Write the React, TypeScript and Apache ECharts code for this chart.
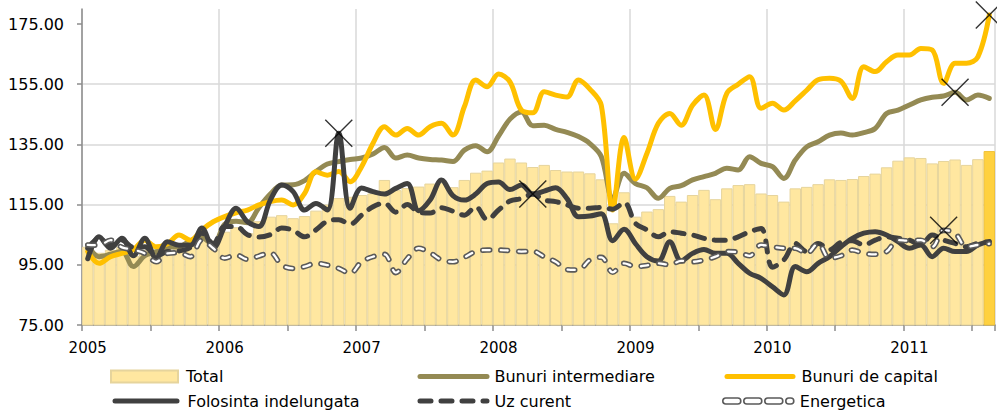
import React, { useEffect, useRef } from 'react';
import * as echarts from 'echarts';

const FIRST_YEAR = 2005;
const MONTH_COUNT = 80;
const categories: string[] = Array.from({ length: MONTH_COUNT }, (_, i) =>
  `${FIRST_YEAR + Math.floor(i / 12)}-${String((i % 12) + 1).padStart(2, '0')}`
);

const yTicks = [75, 95, 115, 135, 155, 175];

const total = [
  101, 99, 100, 101, 98, 100, 100, 99, 101, 102, 103, 103,
  106, 107.5, 105.5, 109.5, 111, 111.5, 110.5, 111.2, 113, 115, 117.2, 117.6,
  118.2, 118.7, 123.2, 119.8, 120.5, 121, 122, 122.3, 120.8, 123.2, 125.6, 126.3,
  129, 130.3, 129, 127.5, 128.2, 126.5, 126, 126, 125.4, 123.4, 108.8, 119.1,
  111, 112.7, 113.5, 117.9, 116, 118.2, 119.9, 116.8, 120.4, 121.5, 121.8, 118.7,
  118.2, 116, 120.4, 120.9, 121.8, 123.4, 123.2, 123.5, 124.5, 125.3, 127.4, 129.6,
  130.7, 130.5, 128.7, 129.5, 130, 128.2, 130.1, 132.8,
];

const intermediare = [
  101.5, 97.7, 98.5, 99.5, 94.4, 98, 99.4, 100.8, 101, 103, 104, 101.6,
  108.5, 109.5, 109, 114, 118.5, 121.5, 121.6, 123, 126, 128.5, 129.3, 130,
  130.5, 131.8, 134, 130.5, 131.5, 130.5, 130, 129.8, 129.3, 133.1, 134.6, 132.6,
  137.8, 143.4, 145.8, 141.2, 141.4, 140, 139, 137.6, 135.3, 131, 117, 125.4,
  122, 120.6, 117.1, 120.4, 121.3, 123.2, 124.3, 125.4, 127.1, 126.5, 130.9, 128.7,
  127.6, 123.7, 129.8, 134.2, 135.9, 138.1, 138.8, 138.1, 138.9, 140.3, 145.3, 146.4,
  148.1, 149.8, 150.7, 151.1, 152.3, 149.8, 151.4, 150.3,
];

const capital = [
  99.4, 95.5, 97.7, 98.8, 100, 103.2, 101, 102, 104.9, 103.2, 106.6, 109.3,
  111, 112.3, 113.2, 114.9, 116, 116.5, 114.9, 118.7, 125.9, 124.8, 126, 122.6,
  127.6, 135.4, 140.9, 138.1, 140.3, 138.1, 140.9, 142, 138.1, 147.5, 156.4, 154.2,
  158.4, 155.8, 146.4, 145.5, 152.5, 151.4, 150.8, 156.4, 153.4, 148, 113.2, 137.3,
  123.5, 132, 142, 145.3, 141.4, 148, 151.4, 140, 152, 155, 157.5, 147,
  148.7, 146.4, 149.5, 153, 156.5, 157, 156, 150.3, 160.8, 159.2, 162.5, 164.7,
  164.7, 166.9, 166.4, 155.3, 162, 162, 164.1, 178,
];

const folosinta = [
  97, 104.3, 100.5, 103.8, 98, 103.8, 97.2, 102.7, 101.5, 101.5, 107.2, 100.5,
  107.7, 113.8, 109.3, 107.7, 116.5, 121.5, 119.3, 113.2, 115.4, 113.2, 138.7, 113.8,
  120.5, 119.3, 118.5, 120.4, 122, 113, 116.5, 123.2, 118, 116.5, 118.5, 122,
  122.5, 120, 121.5, 118.5, 119.5, 120.6, 117, 111, 111.2, 112, 103, 106.8,
  102, 97.7, 96.3, 102.7, 96.3, 98.8, 100.1, 98.8, 98.8, 95.5, 92.2, 90.5,
  87.7, 85, 94.4, 92.7, 95.5, 97.7, 101, 103.8, 105.5, 106, 104.9, 102.7,
  100.5, 101.6, 97.7, 100.5, 99.4, 99.4, 101.6, 102.7,
];

const uzCurent = [
  100.5, 103.8, 101.6, 103.2, 100.8, 101, 98, 99.4, 99.6, 100.8, 105.5, 102.1,
  107.7, 107.7, 105, 104.2, 105, 107.2, 106.5, 104.3, 106.6, 109.5, 110, 108.5,
  111.5, 114.3, 115.5, 112.5, 115, 112.5, 112.2, 114, 112.8, 111.5, 114.3, 110,
  113.2, 116.2, 117, 118.5, 116.5, 116, 114.9, 113.8, 113.8, 114.1, 113.5, 115.7,
  108.8, 106.6, 104.3, 106, 105.5, 104.9, 103.8, 103.2, 103.2, 104.3, 106, 107.1,
  94.2, 96.6, 102.1, 99.4, 102.1, 100, 102.5, 103, 101.6, 103.2, 104.3, 103.8,
  103.2, 101.6, 104.9, 103.2, 102.1, 101, 102.2, 102.7,
];

const energetica = [
  101.6, 101.5, 103.2, 100.8, 100, 98.8, 96, 98.8, 99, 97.7, 103.2, 100.5,
  97.2, 98.3, 96.8, 97.9, 99, 94.9, 93.8, 94.4, 95.5, 94.9, 93.8, 92.2,
  96, 97.7, 98.5, 92.4, 97, 100.5, 99, 96.6, 96, 97.5, 99.4, 99.9,
  99.9, 99.7, 99.4, 99.5, 97.7, 96, 93.4, 93.3, 96.6, 97.5, 92.5, 95.5,
  94.4, 94.8, 95.5, 95, 96.3, 96, 96.6, 97.7, 99.4, 99.2, 98, 101.6,
  101, 100.5, 100.5, 98.8, 102.1, 97.2, 98, 99.9, 98.8, 98.5, 99.4, 103.2,
  103, 103.2, 101, 106.5, 105.5, 101, 101.6, 102,
];

// X markers: which series and which month index
const markerRefs: { series: string; index: number }[] = [
  { series: 'Folosinta indelungata', index: 22 },
  { series: 'Folosinta indelungata', index: 39 },
  { series: 'Bunuri de capital', index: 79 },
  { series: 'Bunuri intermediare', index: 76 },
  { series: 'Energetica', index: 75 },
];

const seriesValues: Record<string, number[]> = {
  'Bunuri intermediare': intermediare,
  'Bunuri de capital': capital,
  'Folosinta indelungata': folosinta,
  'Uz curent': uzCurent,
  Energetica: energetica,
};

const FONT = 'DejaVu Sans';
const AXIS_GRAY = '#8c8c8c';
const GRID_GRAY = '#d9d9d9';
const BAR_FILL = '#FFE7A0';
const BAR_BORDER = '#E6D49C';
const BAR_LAST = '#FFD13F';
const OLIVE = '#948A54';
const GOLD = '#FFC000';
const DARK = '#404040';
const ENERGY_GRAY = '#5a5a5a';
const LINE_W = 5;

function capsulePath(): string {
  const h = 6;
  const r = h / 2;
  const pieces: [number, number][] = [[0, 18], [21, 18], [42, 18], [63, 8]];
  return (
    'path://' +
    pieces
      .map(([x0, len]) => {
        const a = x0 + r;
        const b = x0 + len - r;
        return `M${a} 0H${b}A${r} ${r} 0 0 1 ${b} ${h}H${a}A${r} ${r} 0 0 1 ${a} 0Z`;
      })
      .join('')
  );
}

export default function App() {
  const ref = useRef<HTMLDivElement>(null);

  useEffect(() => {
    if (!ref.current) return;
    const chart = echarts.init(ref.current, undefined, { renderer: 'svg' });

    const barData = total.map((v, i) =>
      i === total.length - 1
        ? { value: v, itemStyle: { color: BAR_LAST, borderColor: '#EFC23A' } }
        : v
    );

    const markerData = markerRefs.map((m) => [m.index, seriesValues[m.series][m.index]]);

    const lineBase = { type: 'line', smooth: 0.35, symbol: 'none', showSymbol: false, silent: true };

    const legendText = {
      fontFamily: FONT,
      fontSize: 16,
      color: '#000',
      lineHeight: 18,
    };

    const hiddenSymbol = { color: 'transparent', borderColor: 'transparent', borderWidth: 0, opacity: 0 };
    const legendLine = { width: LINE_W, cap: 'round' };

    const mkLegend = (name: string | object, left: number, top: number, itemWidth: number, itemHeight: number, padLeft: number) => ({
      show: true,
      orient: 'horizontal',
      left,
      top,
      padding: 0,
      itemWidth,
      itemHeight,
      selectedMode: false,
      data: [name],
      lineStyle: legendLine,
      textStyle: { ...legendText, padding: [0, 0, 0, padLeft] },
    });

    const row1 = 367.5;
    const row2 = 392;

    const option: any = {
      animation: false,
      grid: { left: 82, right: 2, top: 9, bottom: 85, containLabel: false },
      legend: [
        mkLegend({ name: 'Total', icon: 'rect' }, 110, row1, 67, 12, 3),
        mkLegend({ name: 'Bunuri intermediare', itemStyle: hiddenSymbol }, 417.5, row1, 67, 12, 2.5),
        mkLegend({ name: 'Bunuri de capital', itemStyle: hiddenSymbol }, 724.5, row1, 66, 12, 3.5),
        mkLegend({ name: 'Folosinta indelungata', itemStyle: hiddenSymbol }, 112.5, row2, 62, 12, 5.5),
        mkLegend({ name: 'Uz curent', itemStyle: hiddenSymbol }, 417.5, row2, 67, 12, 2.5),
        mkLegend(
          {
            name: 'Energetica',
            icon: capsulePath(),
            itemStyle: { color: '#ffffff', borderColor: ENERGY_GRAY, borderWidth: 1.6 },
          },
          722,
          row2,
          71,
          6,
          1
        ),
      ],
      xAxis: {
        type: 'category',
        data: categories,
        boundaryGap: true,
        axisLine: { show: true, lineStyle: { color: AXIS_GRAY, width: 1.5 } },
        axisTick: { show: true, interval: 5, length: 6, lineStyle: { color: AXIS_GRAY, width: 1.5 } },
        axisLabel: {
          interval: 11,
          formatter: (v: string) => v.slice(0, 4),
          color: '#000',
          fontFamily: FONT,
          fontSize: 15,
          margin: 15,
        },
        splitLine: { show: true, interval: 11, lineStyle: { color: GRID_GRAY, width: 1.5 } },
      },
      yAxis: {
        type: 'value',
        min: 75,
        max: 180,
        interval: 20,
        axisLine: { show: true, lineStyle: { color: AXIS_GRAY, width: 1.5 } },
        axisTick: { show: true, length: 5, customValues: yTicks, lineStyle: { color: AXIS_GRAY, width: 1.5 } },
        axisLabel: {
          customValues: yTicks,
          formatter: (v: number) => v.toFixed(2),
          color: '#000',
          fontFamily: FONT,
          fontSize: 16,
          margin: 18,
        },
        splitLine: { show: true, showMaxLine: false, lineStyle: { color: GRID_GRAY, width: 1.5 } },
      },
      series: [
        {
          name: 'Total',
          type: 'bar',
          data: barData,
          barCategoryGap: '0%',
          barGap: '0%',
          silent: true,
          itemStyle: { color: BAR_FILL, borderColor: BAR_BORDER, borderWidth: 1 },
          z: 1,
        },
        {
          ...lineBase,
          name: 'Bunuri intermediare',
          data: intermediare,
          itemStyle: { color: OLIVE },
          lineStyle: { color: OLIVE, width: LINE_W, cap: 'round', join: 'round' },
          z: 3,
        },
        {
          ...lineBase,
          name: 'Bunuri de capital',
          data: capital,
          itemStyle: { color: GOLD },
          lineStyle: { color: GOLD, width: LINE_W, cap: 'round', join: 'round' },
          z: 4,
        },
        {
          ...lineBase,
          name: 'Folosinta indelungata',
          data: folosinta,
          itemStyle: { color: DARK },
          lineStyle: { color: DARK, width: LINE_W, cap: 'round', join: 'round' },
          z: 5,
        },
        {
          ...lineBase,
          name: 'Uz curent',
          data: uzCurent,
          itemStyle: { color: DARK },
          lineStyle: { color: DARK, width: LINE_W, type: [11, 10], cap: 'round', join: 'round' },
          z: 6,
        },
        {
          ...lineBase,
          name: 'Energetica',
          data: energetica,
          itemStyle: { color: ENERGY_GRAY },
          lineStyle: { color: ENERGY_GRAY, width: 5.5, type: [7, 11], cap: 'round', join: 'round' },
          z: 7,
        },
        {
          ...lineBase,
          name: 'Energetica inner',
          data: energetica,
          itemStyle: { color: '#ffffff' },
          lineStyle: { color: '#ffffff', width: 2.3, type: [7, 11], cap: 'round', join: 'round' },
          z: 8,
        },
        {
          name: 'markers',
          type: 'scatter',
          data: markerData,
          symbol: 'path://M0 0L10 10M10 0L0 10',
          symbolSize: 27,
          silent: true,
          itemStyle: { color: 'transparent', borderColor: '#000', borderWidth: 1.4 },
          z: 10,
        },
      ],
    };

    chart.setOption(option);
    return () => {
      chart.dispose();
    };
  }, []);

  return (
    <div
      ref={ref}
      style={{ position: 'absolute', left: 0, top: 0, width: '997px', height: '410px', background: '#fff' }}
    />
  );
}
